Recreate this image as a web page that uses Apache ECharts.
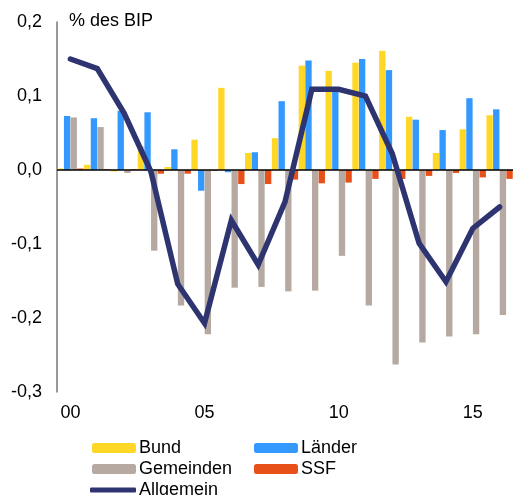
<!DOCTYPE html>
<html>
<head>
<meta charset="utf-8">
<script src="https://cdn.jsdelivr.net/npm/echarts@6/dist/echarts.min.js"></script>
<style>
  html, body { margin: 0; padding: 0; background: #fff; }
  #chartBox { width: 513px; height: 495px; }
</style>
</head>
<body>
<div id="chartBox"></div>
<script>
// Jahre 2000 - 2016
var years = ['00', '01', '02', '03', '04', '05', '06', '07', '08', '09', '10', '11', '12', '13', '14', '15', '16']
// % des BIP
var bund = [0.002, 0.007, -0.002, 0.032, 0.004, 0.041, 0.111, 0.023, 0.043, 0.141, 0.134, 0.145, 0.161, 0.072, 0.023, 0.055, 0.074]
var laender = [0.073, 0.070, 0.080, 0.078, 0.028, -0.028, -0.003, 0.024, 0.093, 0.148, 0.110, 0.150, 0.135, 0.068, 0.054, 0.097, 0.082]
var gemeinden = [0.071, 0.058, -0.004, -0.109, -0.183, -0.222, -0.159, -0.158, -0.164, -0.163, -0.116, -0.183, -0.263, -0.233, -0.225, -0.222, -0.196]
var ssf = [0.002, 0.001, 0.001, -0.005, -0.005, -0.001, -0.019, -0.019, -0.013, -0.018, -0.017, -0.012, -0.012, -0.008, -0.004, -0.010, -0.012]
var allgemein = [0.150, 0.137, 0.077, -0.002, -0.154, -0.207, -0.068, -0.128, -0.043, 0.109, 0.109, 0.100, 0.022, -0.099, -0.151, -0.079, -0.050]

var font = 'Liberation Sans, Arial, sans-serif'
var fs = 18

var myChart = echarts.init(document.getElementById('chartBox'))

function legendAt (name, left, top, extra) {
  var lg = {
    data: [name],
    left: left,
    top: top,
    orient: 'horizontal',
    itemWidth: 44,
    itemHeight: 10,
    itemGap: 4,
    padding: 0,
    selectedMode: false,
    textStyle: { fontFamily: font, fontSize: fs, color: '#000', padding: [0, 0, 0, -2] }
  }
  return Object.assign(lg, extra || {})
}

myChart.setOption({
  animation: false,
  textStyle: { fontFamily: font, fontSize: fs, color: '#000' },
  title: {
    text: '% des BIP',
    left: 69,
    top: 12,
    padding: 0,
    textStyle: { fontFamily: font, fontSize: fs, fontWeight: 'normal', color: '#000' }
  },
  legend: [
    legendAt('Bund', 92, 439),
    legendAt('Länder', 254, 439),
    legendAt('Gemeinden', 92, 460),
    legendAt('SSF', 254, 460),
    legendAt('Allgemein', 90, 481, {
      data: [{ name: 'Allgemein', icon: 'roundRect' }],
      itemWidth: 46,
      itemHeight: 5,
      itemStyle: { color: '#2E3470', borderWidth: 0 },
      lineStyle: { width: 0 }
    })
  ],
  grid: {
    left: 57,
    right: -4,
    top: 22,
    bottom: 103,
    containLabel: false
  },
  xAxis: [{
    type: 'category',
    data: years,
    axisLine: { show: false, onZero: false },
    axisTick: { show: false },
    axisLabel: {
      interval: 4,
      margin: 12,
      fontFamily: font,
      fontSize: fs,
      color: '#000'
    },
    splitLine: { show: false }
  }],
  yAxis: [{
    type: 'value',
    min: -0.3,
    max: 0.2,
    interval: 0.1,
    axisLine: { show: true, lineStyle: { color: '#777', width: 1.5 } },
    axisTick: { show: false },
    splitLine: { show: false },
    axisLabel: {
      margin: 15,
      fontFamily: font,
      fontSize: fs,
      color: '#000',
      formatter: function (v) {
        var s = (Math.round(v * 10) / 10).toFixed(1)
        if (s === '-0.0') s = '0.0'
        return s.replace('.', ',')
      }
    }
  }],
  series: [{
    name: 'Bund',
    type: 'bar',
    data: bund,
    barGap: '5%',
    barCategoryGap: '2%',
    itemStyle: { color: '#FFD726' },
    markLine: {
      silent: true,
      symbol: 'none',
      label: { show: false },
      lineStyle: { color: '#000', width: 1.5, type: 'solid' },
      data: [{ yAxis: 0 }]
    },
    z: 2
  }, {
    name: 'Länder',
    type: 'bar',
    data: laender,
    itemStyle: { color: '#3399FF' },
    z: 2
  }, {
    name: 'Gemeinden',
    type: 'bar',
    data: gemeinden,
    itemStyle: { color: '#B5A9A1' },
    z: 2
  }, {
    name: 'SSF',
    type: 'bar',
    data: ssf,
    itemStyle: { color: '#E8501A' },
    z: 2
  }, {
    name: 'Allgemein',
    type: 'line',
    data: allgemein,
    symbol: 'none',
    lineStyle: { color: '#2E3470', width: 5.5, cap: 'round', join: 'miter' },
    itemStyle: { color: '#2E3470' },
    z: 5
  }]
})
</script>
</body>
</html>
